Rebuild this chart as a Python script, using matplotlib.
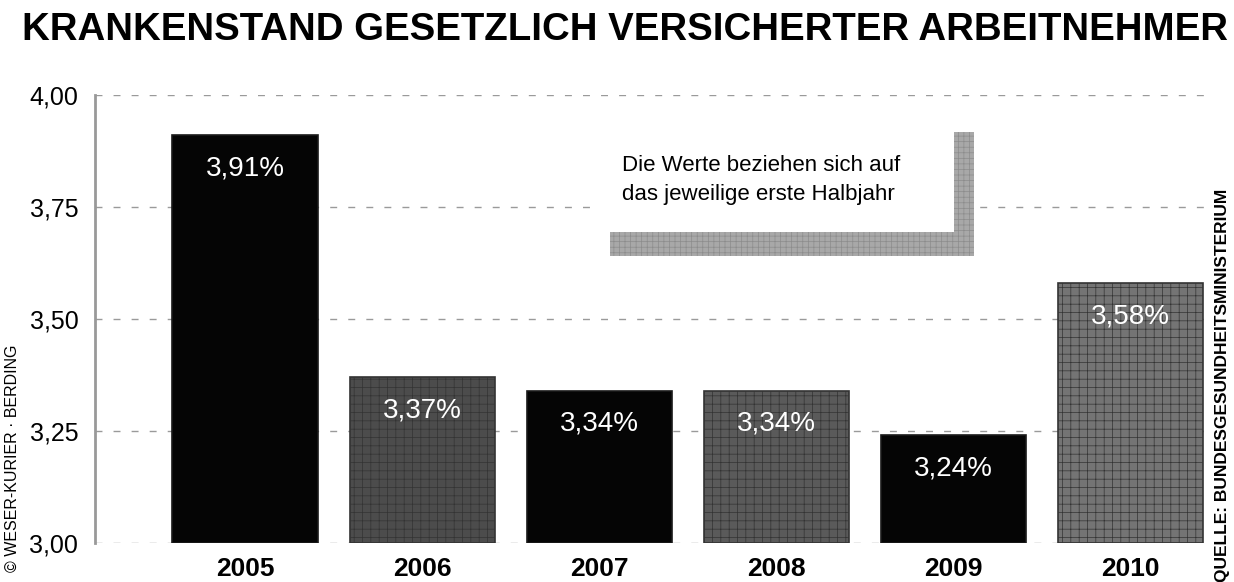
import matplotlib
matplotlib.use("Agg")
import matplotlib.pyplot as plt
from matplotlib.patches import Rectangle

# data
years = ["2005", "2006", "2007", "2008", "2009", "2010"]
rates = [3.91, 3.37, 3.34, 3.34, 3.24, 3.58]
y_ticks = [3.00, 3.25, 3.50, 3.75, 4.00]

title = "KRANKENSTAND GESETZLICH VERSICHERTER ARBEITNEHMER"
note = "Die Werte beziehen sich auf\ndas jeweilige erste Halbjahr"
credit = "© WESER-KURIER · BERDING"
source = "QUELLE: BUNDESGESUNDHEITSMINISTERIUM"

# alternating black / textured grey bars
bar_colors = ["#050505", "#4c4c4c", "#050505", "#5a5a5a", "#050505", "#747474"]
bar_hatch = [None, "++", None, "++", None, "++"]

plt.rcParams["font.family"] = ["Liberation Sans", "DejaVu Sans"]
plt.rcParams["hatch.linewidth"] = 0.5

fig = plt.figure(figsize=(12.34, 5.82), dpi=100)
ax = fig.add_axes([0.077, 0.067, 0.904, 0.770])

x = range(len(years))
bars = ax.bar(x, [r - 3.0 for r in rates], bottom=3.0, width=0.82,
              color=bar_colors, edgecolor="#1a1a1a", linewidth=1.2, zorder=3)
for b, h in zip(bars, bar_hatch):
    if h:
        b.set_hatch(h)
        b.set_edgecolor("#333333")

# value labels inside the bars
for i, r in enumerate(rates):
    ax.text(i, r - 0.045, f"{r:.2f}".replace(".", ",") + "%", ha="center",
            va="top", color="white", fontsize=20, zorder=4)

ax.set_xlim(-0.847, 5.45)
ax.set_ylim(3.0, 4.0)
ax.set_yticks(y_ticks)
ax.set_yticklabels([f"{t:.2f}".replace(".", ",") for t in y_ticks], fontsize=18)
ax.set_xticks(list(x))
ax.set_xticklabels(years, fontsize=19, fontweight="bold")
ax.tick_params(axis="y", length=0, pad=12)
ax.tick_params(axis="x", length=0, pad=10)

for t in y_ticks:
    ax.axhline(t, color="#9a9a9a", lw=1.0, ls=(0, (5, 8)), zorder=1)

for side in ["top", "right", "bottom"]:
    ax.spines[side].set_visible(False)
ax.spines["left"].set_color("#999999")
ax.spines["left"].set_linewidth(2)

# note box with its grey L-shaped shadow (figure pixel coords)
W, H = 1234, 582
def fig_rect(x0, y0, x1, y1, **kw):
    fig.patches.append(Rectangle((x0 / W, 1 - y1 / H), (x1 - x0) / W, (y1 - y0) / H,
                                 transform=fig.transFigure, **kw))

fig_rect(600, 125, 958, 234, facecolor="white", edgecolor="none", zorder=5)
fig_rect(610, 232, 958, 256, facecolor="#a8a8a8", edgecolor="#8c8c8c",
         hatch="+++", lw=0, zorder=5)
fig_rect(954, 132, 974, 256, facecolor="#a8a8a8", edgecolor="#8c8c8c",
         hatch="+++", lw=0, zorder=5)
fig.text(622 / W, 1 - 180 / H, note, fontsize=16, va="center", ha="left",
         linespacing=1.5, zorder=6)

# title: heavy font, size fitted to the reference width
t = fig.text(22 / W, 1 - 30 / H, title, fontsize=30, fontweight="bold",
             family=["DejaVu Sans Condensed", "Liberation Sans", "DejaVu Sans"],
             va="center", ha="left")
r = fig.canvas.get_renderer()
w = t.get_window_extent(r).width
t.set_fontsize(30 * 1203 / w)

fig.text(12 / W, 1 - 458 / H, credit, rotation=90, fontsize=11.5,
         va="center", ha="center")
fig.text(1222 / W, 1 - 385 / H, source, rotation=90, fontsize=12.5,
         fontweight="bold", va="center", ha="center")

fig.savefig("out.png", dpi=100)
